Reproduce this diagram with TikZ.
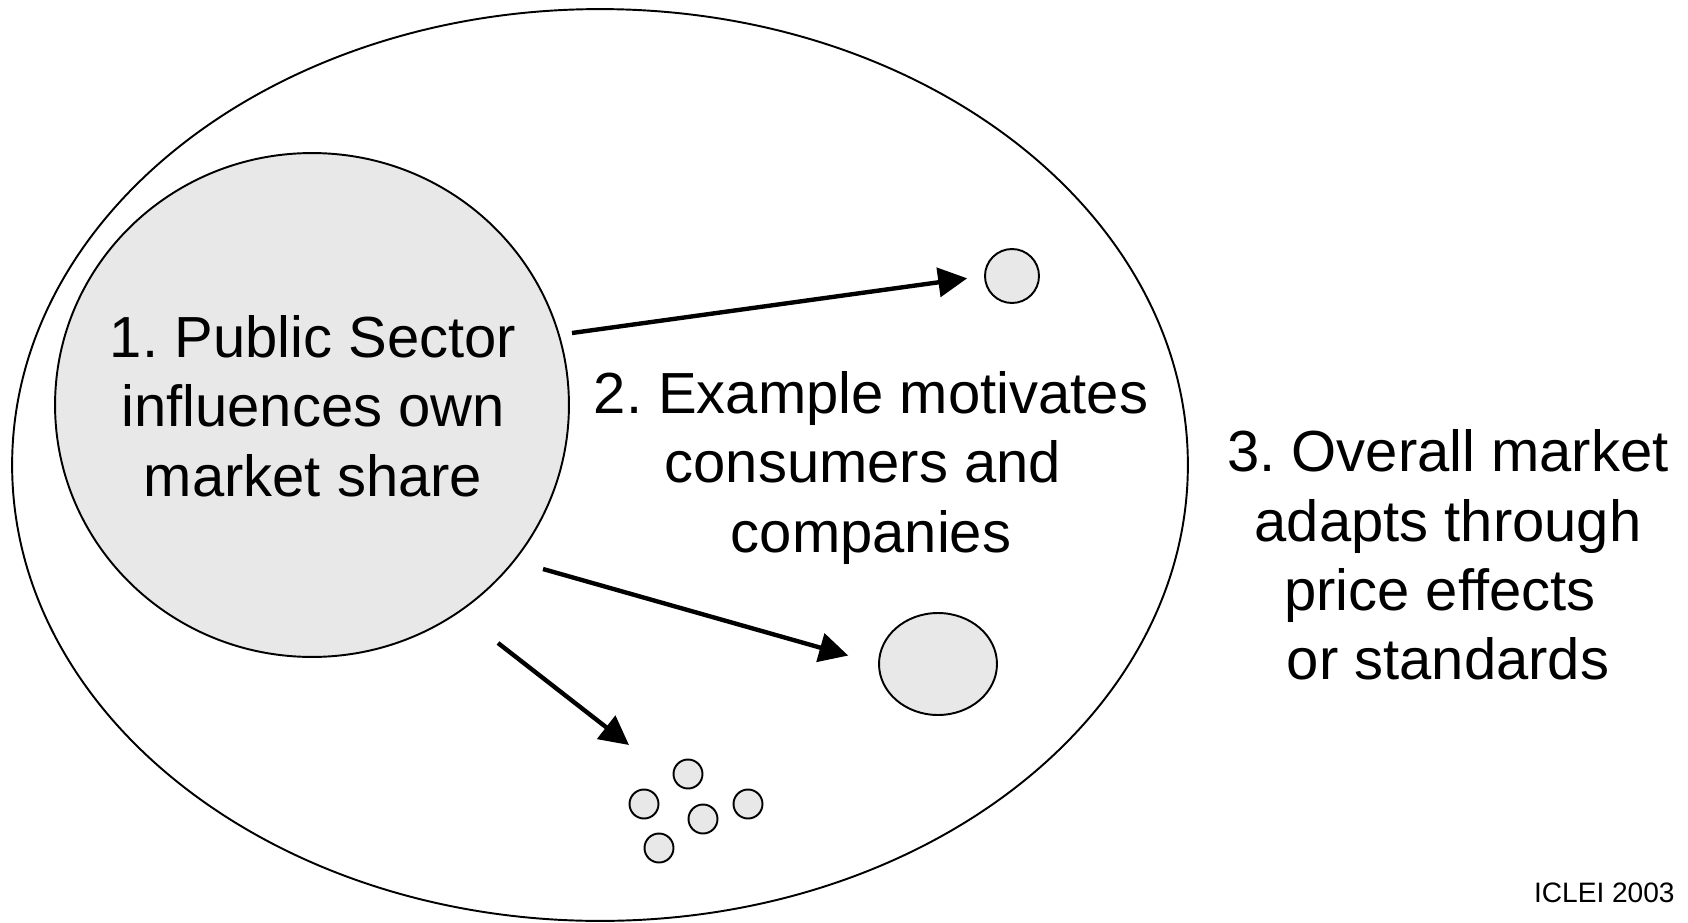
\documentclass[tikz,border=0pt]{standalone}
\usepackage{fontspec}
\setmainfont{Liberation Sans}
\usepackage{tikz}
\usetikzlibrary{shapes.geometric,arrows.meta}
\definecolor{shade}{RGB}{232,232,232}
\frenchspacing
\newcommand{\dotdiam}{.58cm}
\newcommand{\bigtxt}{\fontsize{33}{39.5}\selectfont}
\newcommand{\tailgap}{\hbox to .28em{}}
\tikzset{push/.style={-{Triangle[length=.58cm,width=.58cm]}, line width=2.5pt},
  blob/.style={draw, fill=shade, line width=1.1pt, inner sep=0pt}}

\begin{document}
\begin{tikzpicture}[x=.02cm,y=-.02cm]
        % picture frame
        \useasboundingbox (0,0) rectangle (1688,923);

        % whole market and public sector
        \node (market) at (600,465) [draw, ellipse, line width=1.1pt, inner sep=0pt, minimum width=23.52cm, minimum height=18.24cm] {};
        \node (public) at (312,405) [blob, ellipse, minimum width=10.28cm, minimum height=10.08cm] {};

        % consumers and companies
        \node (small) at (1012,276) [blob, circle, minimum size=1.08cm] {};
        \node (big) at (938,664) [blob, ellipse, minimum width=2.36cm, minimum height=2.04cm] {};
        \node (d1) at (688,774) [blob, circle, minimum size=\dotdiam] {};
        \node (d2) at (644,804) [blob, circle, minimum size=\dotdiam] {};
        \node (d3) at (703,819) [blob, circle, minimum size=\dotdiam] {};
        \node (d4) at (748,804) [blob, circle, minimum size=\dotdiam] {};
        \node (d5) at (659,848) [blob, circle, minimum size=\dotdiam] {};

        % arrows
        \coordinate (s1) at (572,333);
        \coordinate (s2) at (543,569);
        \coordinate (s3) at (498,643);
        \coordinate (e3) at (629,745);
        \draw[push, shorten >=.34cm] (s1) to (small.west);
        \draw[push, shorten >=.62cm] (s2) to (big.west);
        \draw[push] (s3) to (e3);

        % texts
        \node (t1) at (313,406) [align=center, font=\bigtxt, inner sep=0pt] {1. Public Sector\\influences own\\market share};
        \node (t2) at (871,468) [align=center, font=\bigtxt, inner sep=0pt] {2. Example motivates\\consumers and\tailgap\\companies};
        \node (t3) at (1448,555) [align=center, font=\bigtxt, inner sep=0pt] {3. Overall market\\adapts through\\price effects\tailgap\\or standards};
        \node (src) at (1675,902) [anchor=base east, font=\fontsize{16}{19}\selectfont, inner sep=0pt] {ICLEI 2003};
\end{tikzpicture}
\end{document}
